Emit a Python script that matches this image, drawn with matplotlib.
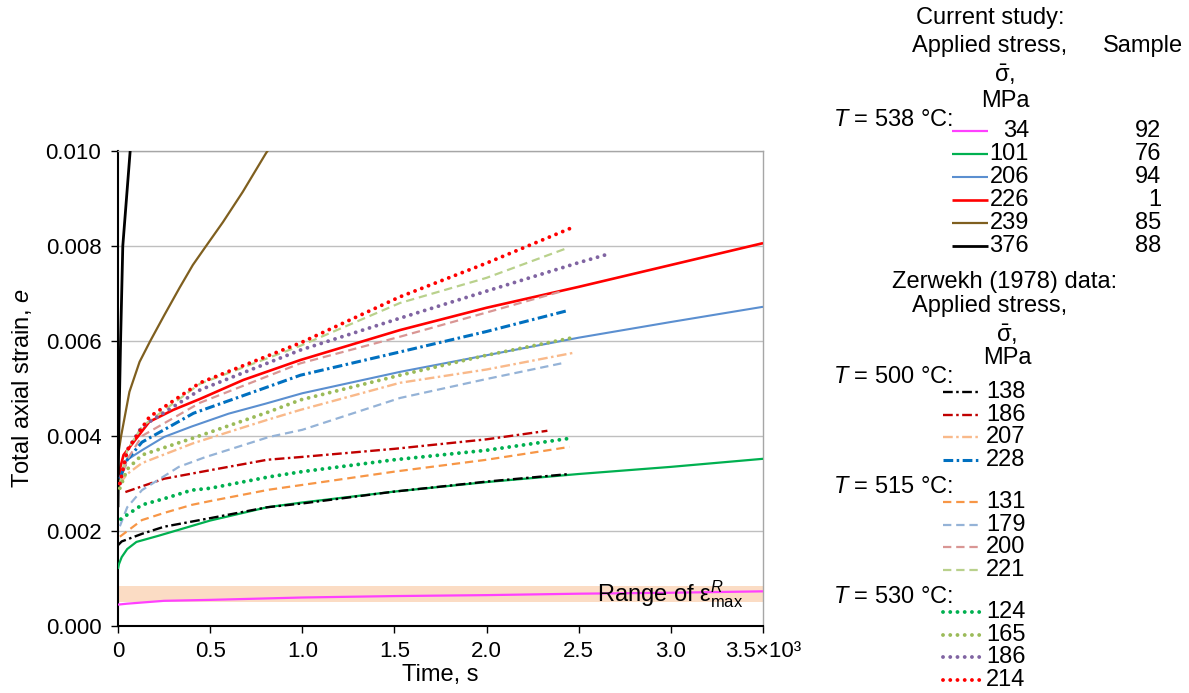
import matplotlib
matplotlib.use("Agg")
import matplotlib.pyplot as plt

plt.rcParams['font.family'] = ['Liberation Sans', 'DejaVu Sans']
plt.rcParams['mathtext.fontset'] = 'custom'
plt.rcParams['mathtext.rm'] = 'Liberation Sans'
plt.rcParams['mathtext.it'] = 'Liberation Sans:italic'
plt.rcParams['mathtext.bf'] = 'Liberation Sans:bold'
plt.rcParams['lines.scale_dashes'] = False

# ---------------- data (time in 10^3 s, strain) ----------------
# Current study, T = 538 C
c34_t = [0, 0.05, 0.25, 0.5, 1.0, 1.5, 2.0, 2.5, 3.0, 3.5]
c34_e = [0.00045, 0.00047, 0.00053, 0.00055, 0.00060, 0.00063, 0.00065, 0.00068, 0.00070, 0.00073]
c101_t = [0, 0.005, 0.02, 0.05, 0.1, 0.22, 0.5, 0.81, 1.0, 1.5, 2.0, 2.5, 3.0, 3.5]
c101_e = [0.0012, 0.0013, 0.00145, 0.00162, 0.00177, 0.0019, 0.00222, 0.0025, 0.0026, 0.00283, 0.00303, 0.0032, 0.00335, 0.00352]
c206_t = [0, 0.01, 0.05, 0.13, 0.25, 0.4, 0.6, 0.8, 1.0, 1.53, 2.0, 2.5, 3.0, 3.5]
c206_e = [0.0029, 0.0032, 0.0035, 0.0037, 0.00398, 0.0042, 0.00447, 0.00468, 0.0049, 0.00535, 0.0057, 0.00607, 0.0064, 0.00672]
c226_t = [0, 0.01, 0.03, 0.09, 0.17, 0.3, 0.445, 0.68, 0.99, 1.53, 2.0, 2.5, 3.0, 3.5]
c226_e = [0.0029, 0.0033, 0.0036, 0.0039, 0.0043, 0.00455, 0.00478, 0.00518, 0.0056, 0.00623, 0.0067, 0.00714, 0.0076, 0.00806]
c239_t = [0, 0.005, 0.017, 0.062, 0.117, 0.175, 0.252, 0.334, 0.406, 0.478, 0.569, 0.677, 0.804, 0.83]
c239_e = [0.0035, 0.0037, 0.0040, 0.00493, 0.00556, 0.0060, 0.00655, 0.00712, 0.0076, 0.0080, 0.0085, 0.00914, 0.00996, 0.0101]
c376_t = [0, 0.004, 0.014, 0.026, 0.066, 0.069]
c376_e = [0.0025, 0.0040, 0.0060, 0.0080, 0.0100, 0.0101]

# Zerwekh (1978), T = 500 C
z138_t = [0, 0.02, 0.13, 0.25, 0.5, 0.81, 1.0, 1.5, 2.0, 2.45]
z138_e = [0.0017, 0.00178, 0.00194, 0.00209, 0.00227, 0.0025, 0.00258, 0.00283, 0.00304, 0.0032]
z186a_t = [0.04, 0.25, 0.5, 0.81, 1.0, 1.5, 2.0, 2.33]
z186a_e = [0.00282, 0.0031, 0.00328, 0.0035, 0.00356, 0.00373, 0.00393, 0.00411]
z207_t = [0.01, 0.05, 0.13, 0.41, 0.81, 0.99, 1.53, 2.0, 2.47]
z207_e = [0.0030, 0.0032, 0.00343, 0.00385, 0.00434, 0.00455, 0.00512, 0.0054, 0.00575]
z228_t = [0.01, 0.05, 0.13, 0.41, 0.81, 0.99, 1.53, 2.0, 2.43]
z228_e = [0.0031, 0.0035, 0.00387, 0.00448, 0.00503, 0.00528, 0.00577, 0.0062, 0.00663]
# T = 515 C
z131_t = [0.01, 0.13, 0.25, 0.4, 0.5, 0.82, 1.0, 1.5, 2.0, 2.45]
z131_e = [0.00188, 0.00223, 0.00238, 0.00255, 0.00263, 0.00287, 0.00297, 0.00325, 0.0035, 0.00377]
z179_t = [0.01, 0.05, 0.13, 0.33, 0.47, 0.82, 1.0, 1.53, 2.0, 2.42]
z179_e = [0.0021, 0.0025, 0.00286, 0.00335, 0.00355, 0.00398, 0.00413, 0.0048, 0.0052, 0.00554]
z200_t = [0.01, 0.05, 0.13, 0.445, 0.99, 1.53, 2.0, 2.42]
z200_e = [0.0030, 0.0035, 0.0040, 0.0047, 0.00553, 0.00609, 0.0066, 0.00706]
z221_t = [0.01, 0.05, 0.13, 0.445, 0.99, 1.53, 2.0, 2.44]
z221_e = [0.0030, 0.0037, 0.0042, 0.0051, 0.0059, 0.0068, 0.00733, 0.00796]
# T = 530 C
z124_t = [0.015, 0.13, 0.25, 0.4, 0.5, 0.82, 1.0, 1.5, 2.0, 2.45]
z124_e = [0.00225, 0.00255, 0.00268, 0.00286, 0.0029, 0.00314, 0.00325, 0.0035, 0.0037, 0.00395]
z165_t = [0.01, 0.05, 0.13, 0.41, 0.82, 0.99, 1.53, 2.0, 2.48]
z165_e = [0.0029, 0.0033, 0.0036, 0.00396, 0.00451, 0.00476, 0.00528, 0.0057, 0.00608]
z186b_t = [0.01, 0.05, 0.13, 0.445, 0.99, 1.53, 2.0, 2.5, 2.66]
z186b_e = [0.0030, 0.0037, 0.0042, 0.00497, 0.00581, 0.00648, 0.00705, 0.00765, 0.00783]
z214_t = [0.01, 0.05, 0.17, 0.445, 0.99, 1.53, 2.0, 2.46]
z214_e = [0.0030, 0.0037, 0.0044, 0.00512, 0.00596, 0.00693, 0.00764, 0.00838]

band_low, band_high = 0.0005, 0.00085

current_stress = ["34", "101", "206", "226", "239", "376"]
current_sample = ["92", "76", "94", "1", "85", "88"]
current_colors = ["#ff40ff", "#00b050", "#5b8fd0", "#ff0000", "#7f5f1f", "#000000"]
current_series = [(c34_t, c34_e), (c101_t, c101_e), (c206_t, c206_e),
                  (c226_t, c226_e), (c239_t, c239_e), (c376_t, c376_e)]

zer_temps = ["500", "515", "530"]
zer_stress = [["138", "186", "207", "228"], ["131", "179", "200", "221"], ["124", "165", "186", "214"]]
zer_colors = [["#000000", "#c00000", "#f9b98a", "#0070c0"],
              ["#f79646", "#95b3d7", "#d99694", "#b9d18c"],
              ["#00b050", "#9bbb59", "#8064a2", "#ff0000"]]
zer_series = [[(z138_t, z138_e), (z186a_t, z186a_e), (z207_t, z207_e), (z228_t, z228_e)],
              [(z131_t, z131_e), (z179_t, z179_e), (z200_t, z200_e), (z221_t, z221_e)],
              [(z124_t, z124_e), (z165_t, z165_e), (z186b_t, z186b_e), (z214_t, z214_e)]]

xticks = [0, 0.5, 1.0, 1.5, 2.0, 2.5, 3.0, 3.5]
xticklabels = ["0", "0.5", "1.0", "1.5", "2.0", "2.5", "3.0", "3.5×10³"]
yticks = [0.000, 0.002, 0.004, 0.006, 0.008, 0.010]

# ---------------- styles ----------------
cur_lw = [1.6, 1.6, 1.5, 1.9, 1.6, 2.0]
zer_style = [dict(dashes=(7, 2.5, 1.8, 2.5), lw=1.7),
             dict(dashes=(6, 3.5), lw=1.6),
             dict(dashes=(0.01, 5.2), lw=2.8, dash_capstyle='round')]

W, H = 1189, 693
fig = plt.figure(figsize=(W / 100, H / 100), dpi=100)
ax = fig.add_axes([118 / W, 1 - 626 / H, (763 - 118) / W, (626 - 151) / H])

ax.axhspan(band_low, band_high, color="#fbdcc4", lw=0, zorder=1)

for (t, e), c, lw in zip(current_series, current_colors, cur_lw):
    ax.plot(t, e, color=c, lw=lw, solid_capstyle='butt', solid_joinstyle='round', zorder=3)

for g, st in enumerate(zer_style):
    for (t, e), c in zip(zer_series[g], zer_colors[g]):
        kw = dict(st)
        kw['lw'] = st['lw'] + (0.5 if c == "#0070c0" else 0)
        ax.plot(t, e, color=c, zorder=4, **kw)

ax.text(2.6, 0.00068, r"Range of $\mathrm{\varepsilon}^{R}_{\mathrm{max}}$",
        fontsize=17, va='center', ha='left', zorder=6)

ax.set_xlim(0, 3.5)
ax.set_ylim(0, 0.010)
ax.set_xticks(xticks)
ax.set_xticklabels(xticklabels)
ax.set_yticks(yticks)
ax.set_yticklabels([f"{v:.3f}" for v in yticks])
ax.tick_params(axis='both', labelsize=16, direction='out', length=5, width=1, color='black')
ax.tick_params(axis='y', pad=7)
ax.tick_params(axis='x', pad=6)
ax.yaxis.grid(True, color="#bfbfbf", lw=1)
ax.set_axisbelow(True)
for s in ['right', 'top']:
    ax.spines[s].set_color("#a6a6a6")
    ax.spines[s].set_linewidth(1)
for s in ['left', 'bottom']:
    ax.spines[s].set_color("black")
    ax.spines[s].set_linewidth(1.5)
ax.set_xlabel("Time, s", fontsize=17, labelpad=1)
ax.set_ylabel("Total axial strain, $e$", fontsize=17, labelpad=8)

# ---------------- legend panel (pixel coordinates) ----------------
x0 = 805
lax = fig.add_axes([x0 / W, 0, 1 - x0 / W, 1])
lax.set_xlim(x0, W)
lax.set_ylim(H, 0)
lax.axis('off')
fs = 17

lax.text(990, 18, "Current study:", fontsize=fs, ha='center', va='center')
lax.text(990, 46, "Applied stress,", fontsize=fs, ha='center', va='center')
lax.text(1143, 46, "Sample", fontsize=fs, ha='center', va='center')
lax.text(1005, 75, r"$\bar{\mathrm{\sigma}}$,", fontsize=fs, ha='center', va='center')
lax.text(1005, 101, "MPa", fontsize=fs, ha='center', va='center')
lax.text(833, 120, "$T$ = 538 °C:", fontsize=fs, ha='left', va='center')
row0, dy = 131, 23.0
for i, (s, smp, c) in enumerate(zip(current_stress, current_sample, current_colors)):
    y = row0 + i * dy
    lax.plot([952, 988], [y, y], color=c, lw=cur_lw[i], solid_capstyle='butt')
    lax.text(1029, y, s, fontsize=fs, ha='right', va='center')
    lax.text(1161, y, smp, fontsize=fs, ha='right', va='center')

lax.text(1005, 282, "Zerwekh (1978) data:", fontsize=fs, ha='center', va='center')
lax.text(990, 306, "Applied stress,", fontsize=fs, ha='center', va='center')
lax.text(1007, 335, r"$\bar{\mathrm{\sigma}}$,", fontsize=fs, ha='center', va='center')
lax.text(1007, 358, "MPa", fontsize=fs, ha='center', va='center')

grp_y0, grp_dy, rdy = 377, 110, 22.6
for g, temp in enumerate(zer_temps):
    gy = grp_y0 + g * grp_dy
    lax.text(833, gy, f"$T$ = {temp} °C:", fontsize=fs, ha='left', va='center')
    st = zer_style[g]
    for j, (s, c) in enumerate(zip(zer_stress[g], zer_colors[g])):
        y = gy + 15 + j * rdy
        kw = dict(st)
        kw['lw'] = st['lw'] + (0.5 if c == "#0070c0" else 0)
        lax.plot([943, 981], [y, y], color=c, **kw)
        lax.text(986, y, s, fontsize=fs, ha='left', va='center')

fig.savefig("out.png", dpi=100)
